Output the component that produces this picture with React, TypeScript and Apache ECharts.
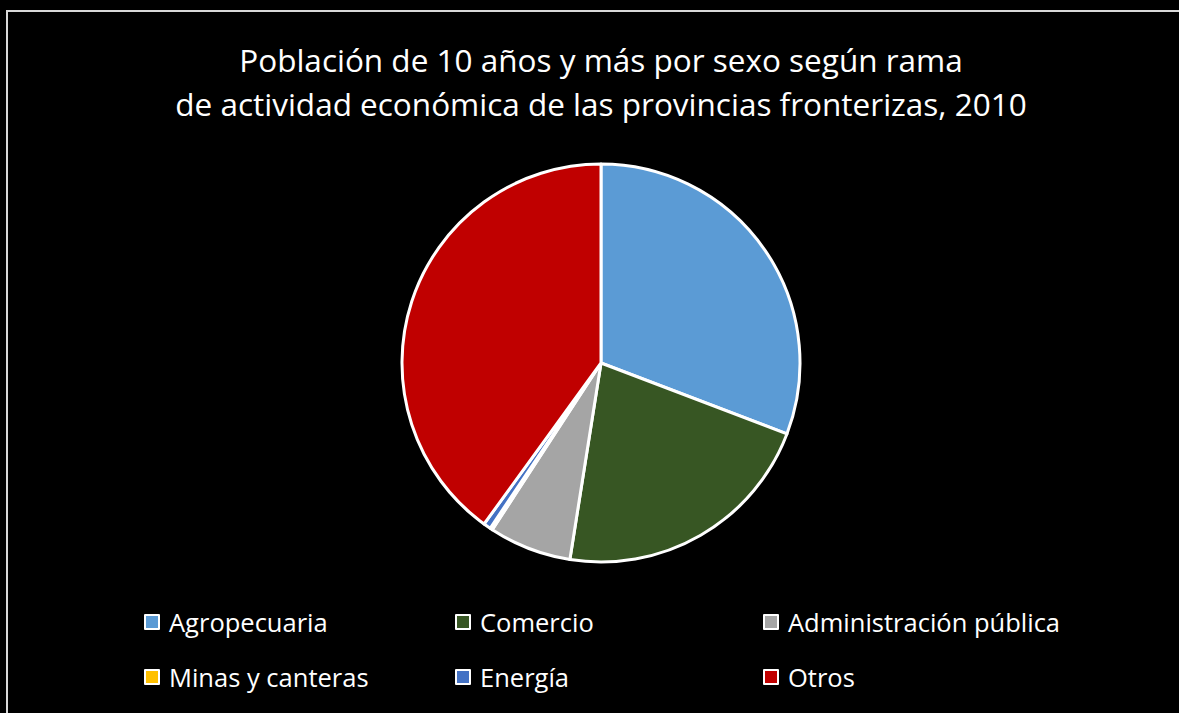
import React, { useEffect, useRef } from "react";
import * as echarts from "echarts";

const categories = ["Agropecuaria", "Comercio", "Administración pública", "Minas y canteras", "Energía", "Otros"];
const values = [30.8, 21.7, 6.7, 0.2, 0.6, 40.0];
const colors = ["#5B9BD5", "#375623", "#A5A5A5", "#FFC000", "#4472C4", "#C00000"];
const titleText = "Población de 10 años y más por sexo según rama\nde actividad económica de las provincias fronterizas, 2010";

const FONT = "'Open Sans', 'Noto Sans', sans-serif";

export default function App() {
  const ref = useRef<HTMLDivElement>(null);
  useEffect(() => {
    document.documentElement.style.background = "#000000";
    document.body.style.overflow = "hidden";
    if (!ref.current) return;
    const chart = echarts.init(ref.current, null, { renderer: "svg" });
    const legendBase = {
      orient: "vertical" as const,
      top: 597,
      padding: 0,
      itemWidth: 14,
      itemHeight: 14,
      itemGap: 29,
      icon: "rect",
      selectedMode: false,
      textStyle: { color: "#ffffff", fontSize: 25.5, fontFamily: FONT, padding: [0, 0, 0, 5] },
      itemStyle: { borderColor: "#ffffff", borderWidth: 2 },
    };
    chart.setOption({
      animation: false,
      backgroundColor: "#000000",
      title: {
        text: titleText,
        left: 593,
        top: 25,
        padding: 0,
        textAlign: "center",
        textStyle: { color: "#ffffff", fontSize: 31.5, fontWeight: "normal", fontFamily: FONT, lineHeight: 44 },
      },
      legend: [
        { ...legendBase, left: 136, data: [categories[0], categories[3]] },
        { ...legendBase, left: 447, data: [categories[1], categories[4]] },
        { ...legendBase, left: 755, data: [categories[2], categories[5]] },
      ],
      series: [
        {
          type: "pie",
          center: [593, 351],
          radius: 199,
          startAngle: 90,
          clockwise: true,
          label: { show: false },
          labelLine: { show: false },
          emphasis: { disabled: true },
          itemStyle: { borderColor: "#ffffff", borderWidth: 3 },
          data: categories.map((name, i) => ({ name, value: values[i], itemStyle: { color: colors[i] } })),
        },
      ],
    });
    return () => chart.dispose();
  }, []);
  return (
    <div
      style={{
        position: "fixed",
        left: 6,
        top: 10,
        width: 1200,
        height: 720,
        background: "#000000",
        borderTop: "2px solid #d9d9d9",
        borderLeft: "2px solid #d9d9d9",
        overflow: "hidden",
      }}
    >
      <div ref={ref} style={{ position: "absolute", left: 0, top: 0, width: 1190, height: 710 }} />
    </div>
  );
}
